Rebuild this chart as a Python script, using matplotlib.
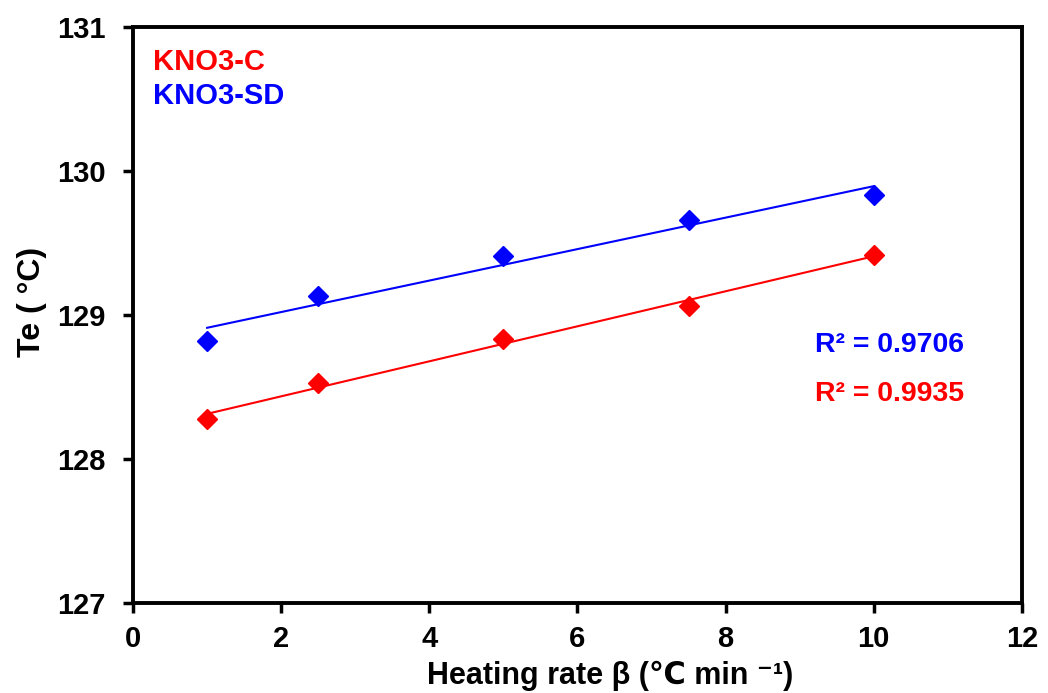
import matplotlib.pyplot as plt
import numpy as np

plt.rcParams['font.family'] = ['Liberation Sans', 'DejaVu Sans']
plt.rcParams['font.weight'] = 'bold'

# data
rate = [1, 2.5, 5, 7.5, 10]
te_c = [128.28, 128.53, 128.83, 129.06, 129.42]
te_sd = [128.82, 129.13, 129.41, 129.66, 129.83]

fig = plt.figure(figsize=(10.48, 6.93), dpi=100)
ax = fig.add_axes([0.127, 0.130, 0.848, 0.831])

for y, col in [(te_c, 'red'), (te_sd, 'blue')]:
    p = np.polyfit(rate, y, 1)
    xs = np.array([rate[0], rate[-1]])
    ax.plot(xs, np.polyval(p, xs), color=col, lw=1.5, zorder=2)
    ax.plot(rate, y, 'D', color=col, ms=10.5, mec=col, zorder=3)

ax.set_xlim(0, 12)
ax.set_ylim(127, 131)
ax.set_xticks([0, 2, 4, 6, 8, 10, 12])
ax.set_yticks([127, 128, 129, 130, 131])
ax.tick_params(labelsize=21, direction='out', length=7, width=2.5)
ax.tick_params(axis='y', pad=13)
ax.tick_params(axis='x', pad=9)
for s in ax.spines.values():
    s.set_linewidth(2.8)

ax.set_xlabel('Heating rate β (℃ min ⁻¹)', fontsize=22, fontweight='bold')
ax.set_ylabel('Te ( °C)', fontsize=23, fontweight='bold')
ax.xaxis.set_label_coords(0.537, -0.1)
ax.yaxis.set_label_coords(-0.097, 0.523)

ax.text(0.022, 0.94, 'KNO3-C', color='red', fontsize=21, fontweight='bold', transform=ax.transAxes, va='center')
ax.text(0.022, 0.88, 'KNO3-SD', color='blue', fontsize=21, fontweight='bold', transform=ax.transAxes, va='center')
ax.text(0.767, 0.448, 'R² = 0.9706', color='blue', fontsize=20.5, fontweight='bold', transform=ax.transAxes, va='center')
ax.text(0.767, 0.363, 'R² = 0.9935', color='red', fontsize=20.5, fontweight='bold', transform=ax.transAxes, va='center')

fig.savefig('out.png', dpi=100)
